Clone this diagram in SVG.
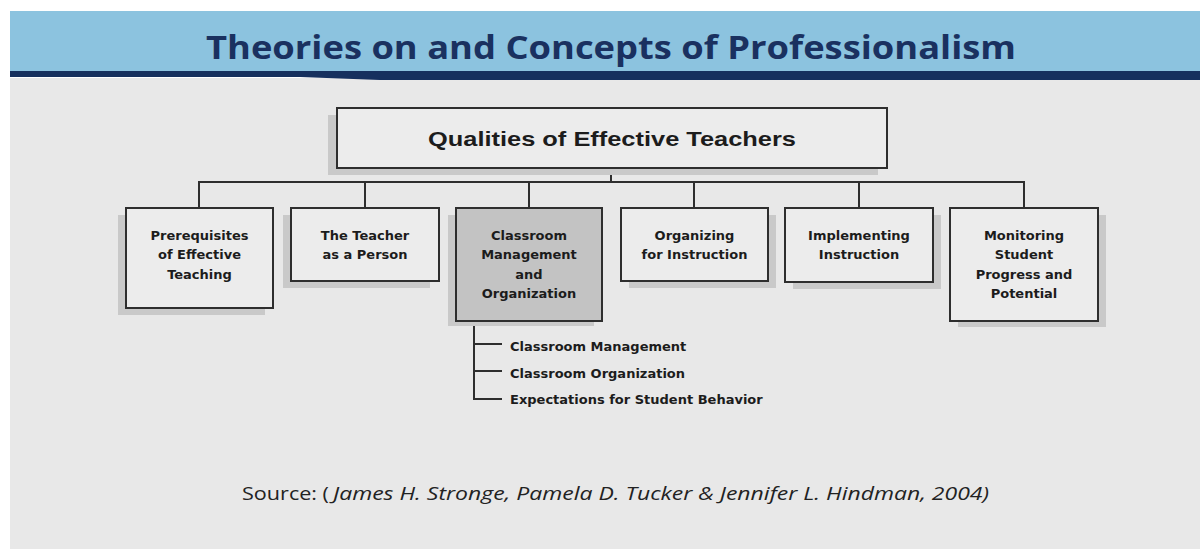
<svg xmlns="http://www.w3.org/2000/svg" width="1200" height="549" viewBox="0 0 1200 549">
<style>
.bg{fill:#e8e8e8}
.box{fill:#ececec;stroke:#2e2e2e;stroke-width:2}
.hl{fill:#c3c3c3;stroke:#2e2e2e;stroke-width:2}
.sh{fill:#c9c9c9}
.lbl{font-family:"DejaVu Sans",sans-serif;font-weight:bold;font-size:13px;fill:#1c1c1c;text-anchor:middle}
.sub{font-family:"DejaVu Sans",sans-serif;font-weight:bold;font-size:13px;fill:#1c1c1c}
.con{fill:none;stroke:#2e2e2e;stroke-width:2}
</style>
<rect width="1200" height="549" fill="#ffffff"/>
<rect class="bg" x="10" y="78" width="1190" height="471"/>
<rect x="10" y="11" width="1190" height="61" fill="#8cc3df"/>
<path d="M10,71 H1200 V80 H380 L300,77 H10 Z" fill="#16305e"/>
<text x="611" y="59" text-anchor="middle" font-family="'Open Sans',sans-serif" font-weight="bold" font-size="33" fill="#1a3160" textLength="810" lengthAdjust="spacingAndGlyphs">Theories on and Concepts of Professionalism</text>

<g id="connectors">
<path class="con" d="M611,168 V182 M199,208 V182 H1024 V208 M365,182 V208 M529,182 V208 M694,182 V208 M859,182 V208"/>
<path class="con" d="M474,321 V399 H502 M474,344 H502 M474,371 H502"/>
</g>

<g id="root">
<rect class="sh" x="328" y="115" width="550" height="60"/>
<rect class="box" x="337" y="108" width="550" height="60"/>
<text x="612" y="146" text-anchor="middle" font-family="'Liberation Sans',sans-serif" font-weight="bold" font-size="21" fill="#1c1c1c" textLength="368" lengthAdjust="spacingAndGlyphs">Qualities of Effective Teachers</text>
</g>

<g id="prerequisites">
<rect class="sh" x="118" y="215" width="147" height="100"/>
<rect class="box" x="126" y="208" width="147" height="100"/>
<text class="lbl" x="199.5" y="240">Prerequisites</text>
<text class="lbl" x="199.5" y="259.3">of Effective</text>
<text class="lbl" x="199.5" y="278.7">Teaching</text>
</g>

<g id="teacher-person">
<rect class="sh" x="283" y="215" width="147" height="73"/>
<rect class="box" x="291" y="208" width="148" height="73"/>
<text class="lbl" x="365" y="240">The Teacher</text>
<text class="lbl" x="365" y="259.3">as a Person</text>
</g>

<g id="classroom">
<rect class="sh" x="448" y="215" width="146" height="111"/>
<rect class="hl" x="456" y="208" width="146" height="113"/>
<text class="lbl" x="529" y="240">Classroom</text>
<text class="lbl" x="529" y="259.3">Management</text>
<text class="lbl" x="529" y="278.7">and</text>
<text class="lbl" x="529" y="298">Organization</text>
</g>

<g id="classroom-items">
<text class="sub" x="510" y="351">Classroom Management</text>
<text class="sub" x="510" y="377.5">Classroom Organization</text>
<text class="sub" x="510" y="404">Expectations for Student Behavior</text>
</g>

<g id="organizing">
<rect class="sh" x="629" y="215" width="147" height="73"/>
<rect class="box" x="621" y="208" width="147" height="73"/>
<text class="lbl" x="694.5" y="240">Organizing</text>
<text class="lbl" x="694.5" y="259.3">for Instruction</text>
</g>

<g id="implementing">
<rect class="sh" x="793" y="215" width="148" height="74"/>
<rect class="box" x="785" y="208" width="148" height="74"/>
<text class="lbl" x="859" y="240">Implementing</text>
<text class="lbl" x="859" y="259.3">Instruction</text>
</g>

<g id="monitoring">
<rect class="sh" x="958" y="215" width="148" height="112"/>
<rect class="box" x="950" y="208" width="148" height="113"/>
<text class="lbl" x="1024" y="240">Monitoring</text>
<text class="lbl" x="1024" y="259.3">Student</text>
<text class="lbl" x="1024" y="278.7">Progress and</text>
<text class="lbl" x="1024" y="298">Potential</text>
</g>

<text x="242" y="500" font-family="'Open Sans',sans-serif" font-size="17.5" fill="#222" textLength="87" lengthAdjust="spacingAndGlyphs">Source: (</text>
<text x="333" y="500" font-family="'Open Sans',sans-serif" font-style="italic" font-size="17.5" fill="#222" textLength="656" lengthAdjust="spacingAndGlyphs">James H. Stronge, Pamela D. Tucker &amp; Jennifer L. Hindman, 2004)</text>
</svg>
